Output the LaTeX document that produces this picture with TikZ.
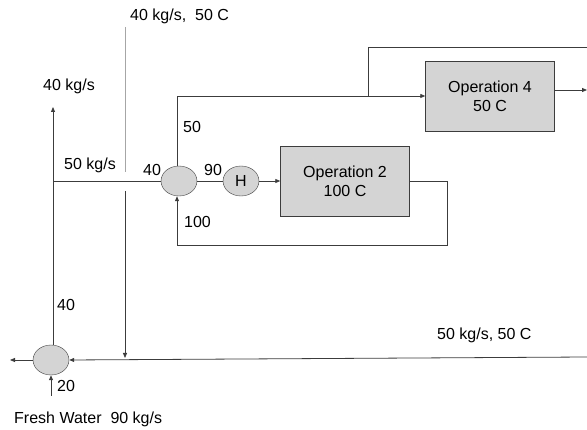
\documentclass[tikz,border=0pt]{standalone}
\usepackage{fontspec}
\setmainfont{Liberation Sans}
\usepackage{tikz}
\usetikzlibrary{shapes,arrows.meta,positioning}

\definecolor{unitfill}{RGB}{212,212,212}
\definecolor{pipe}{RGB}{60,60,60}
\tikzset{
  opbox/.style={draw=pipe, fill=unitfill, minimum width=129pt, minimum height=70pt, align=center, font=\fontsize{16}{19}\selectfont},
  mixer/.style={ellipse, draw=pipe, fill=unitfill, minimum width=36pt, minimum height=30pt, inner sep=0pt, font=\fontsize{16}{18}\selectfont},
  lbl/.style={inner sep=0pt, anchor=west, font=\fontsize{16}{19}\selectfont},
  flow/.style={draw=pipe, line width=0.8pt},
  feed/.style={flow, -{Triangle[length=5pt,width=4pt]}},
}

\begin{document}
\begin{tikzpicture}[x=1pt,y=-1pt]
  \useasboundingbox (0,0) rectangle (587,430);

  % units
  \node[mixer] (m1) at (179,181) {};
  \node[mixer] (h) at (241,181) {H};
  \node[opbox] (op2) at (345,181) {Operation 2\\100 C};
  \node[opbox] (op4) at (490,96) {Operation 4\\50 C};
  \node[mixer] (m0) at (51,360) {};

  % free ends
  \coordinate (up40) at (53,107);
  \coordinate (j1) at (53,181);
  \coordinate (wtop) at (125,27);
  \coordinate (wbot) at (125,172);
  \coordinate (rtop) at (125,191);
  \coordinate (rbot) at (125,358);
  \coordinate (in50) at (587,357);
  \coordinate (out0) at (10,360);
  \coordinate (fw) at (51,396);
  \coordinate (loop2) at (447,245);
  \coordinate (split) at (368,96);
  \coordinate (by4) at (587,47);
  \coordinate (out4) at (587,90);

  % streams
  \draw[feed] (m0.north -| up40) -- (up40);
  \draw[flow] (j1) -- (m1.west);
  \draw[draw=gray!70, line width=0.8pt] (wtop) -- (wbot);
  \draw[feed] (rtop) -- (rbot);
  \draw[feed] (in50) -- (m0.east);
  \draw[feed] (m0.west) -- (out0);
  \draw[feed] (fw) -- (m0.south);
  \draw[flow] (m1.east) -- (h.west);
  \draw[feed] (h.east) -- (op2.west);
  \draw[feed] (op2.east) -| (loop2) -| ([xshift=-2pt]m1.south);
  \draw[feed] ([xshift=-2pt]m1.north) |- (op4.west);
  \draw[flow] (split) |- (by4);
  \draw[feed] (op4.east |- out4) -- (out4);

  % labels
  \node[lbl] (t1) at (130,16) {40 kg/s,\ \ 50 C};
  \node[lbl] (t2) at (43,86) {40 kg/s};
  \node[lbl] (t3) at (183,127) {50};
  \node[lbl] (t4) at (64,165) {50 kg/s};
  \node[lbl] (t5) at (143,170) {40};
  \node[lbl] (t6) at (204,170) {90};
  \node[lbl] (t7) at (184,222) {100};
  \node[lbl] (t8) at (57,305) {40};
  \node[lbl] (t9) at (57,386) {20};
  \node[lbl] (t10) at (14,419) {Fresh Water\ \ 90 kg/s};
  \node[lbl] (t11) at (437,335) {50 kg/s, 50 C};
\end{tikzpicture}
\end{document}
